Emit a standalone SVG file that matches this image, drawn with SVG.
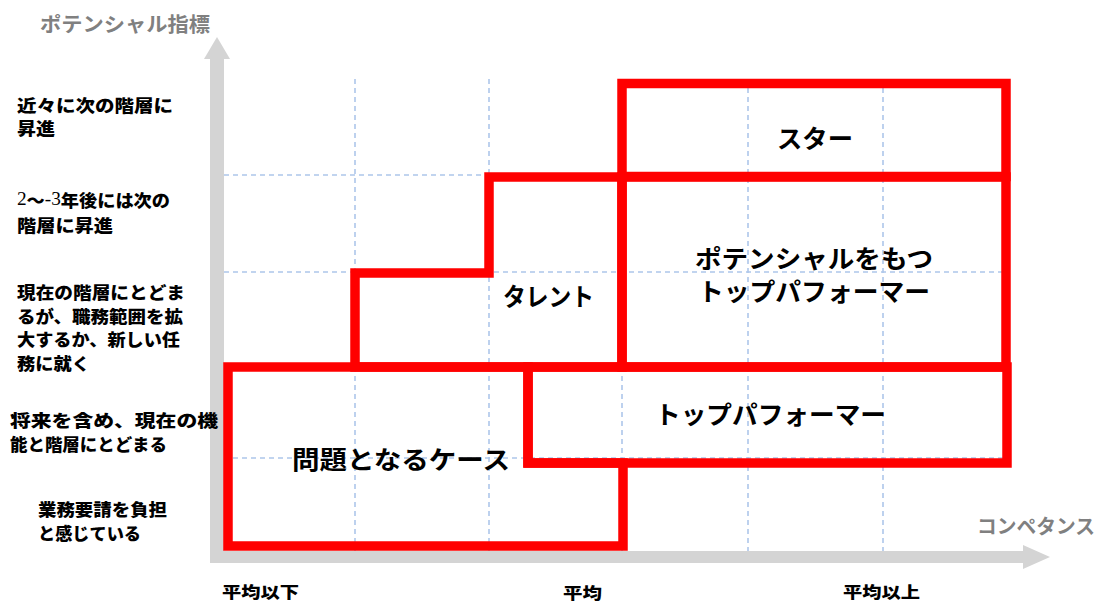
<svg xmlns="http://www.w3.org/2000/svg" width="1106" height="603" viewBox="0 0 1106 603">
<style>
.grid{stroke:#adc6ea;stroke-width:1.6;stroke-dasharray:5 4;fill:none}
.box{fill:none;stroke:#ff0000;stroke-width:9.5;stroke-linejoin:miter}
.ax{fill:#d4d4d4}
.t{font-family:"Noto Sans CJK JP","Noto Sans",sans-serif;font-weight:700;dominant-baseline:central}
.axl{fill:#808080;font-size:20px}
.lbl{fill:#000;font-size:17px;font-weight:900}
.xl{fill:#000;font-size:16px;font-weight:900}
.big{fill:#000;font-size:25px}
.num{font-family:"Liberation Serif",serif;font-weight:400;font-size:18px}
</style>
<rect width="1106" height="603" fill="#fff"/>
<g id="grid">
<line class="grid" x1="355" y1="79" x2="355" y2="552"/>
<line class="grid" x1="489" y1="79" x2="489" y2="552"/>
<line class="grid" x1="622" y1="79" x2="622" y2="552"/>
<line class="grid" x1="748" y1="79" x2="748" y2="552"/>
<line class="grid" x1="883" y1="79" x2="883" y2="552"/>
<line class="grid" x1="224" y1="175" x2="1010" y2="175"/>
<line class="grid" x1="224" y1="272" x2="1010" y2="272"/>
<line class="grid" x1="224" y1="365" x2="1010" y2="365"/>
<line class="grid" x1="224" y1="458" x2="1010" y2="458"/>
</g>
<g id="axes">
<rect class="ax" x="210" y="58" width="14" height="500"/>
<polygon class="ax" points="204,59 217,37 230,59"/>
<rect class="ax" x="210" y="551" width="814" height="12"/>
<polygon class="ax" points="1023,545 1050,557 1023,569"/>
<text class="t axl" x="40" y="23" textLength="170" lengthAdjust="spacingAndGlyphs">ポテンシャル指標</text>
<text class="t axl" x="977" y="525" textLength="118" lengthAdjust="spacingAndGlyphs">コンペタンス</text>
</g>
<g id="connectors"></g>
<g id="problem">
<polygon class="box" points="228,367 528,367 528,463 623,463 623,546 228,546"/>
<text class="t big" x="292" y="458" textLength="218" lengthAdjust="spacingAndGlyphs">問題となるケース</text>
</g>
<g id="top-performer">
<rect class="box" x="528" y="367" width="479" height="96"/>
<text class="t big" x="655" y="413" textLength="231" lengthAdjust="spacingAndGlyphs">トップパフォーマー</text>
</g>
<g id="talent">
<polygon class="box" points="355,367 355,273 489,273 489,177 622,177 622,367"/>
<text class="t big" x="503" y="295" textLength="91" lengthAdjust="spacingAndGlyphs">タレント</text>
</g>
<g id="potential-top-performer">
<rect class="box" x="622" y="177" width="384" height="190"/>
<text class="t big" x="695" y="257" textLength="238" lengthAdjust="spacingAndGlyphs">ポテンシャルをもつ</text>
<text class="t big" x="698" y="290" textLength="232" lengthAdjust="spacingAndGlyphs">トップパフォーマー</text>
</g>
<g id="star">
<rect class="box" x="622" y="83.5" width="384" height="93"/>
<text class="t big" x="777" y="137" textLength="76" lengthAdjust="spacingAndGlyphs">スター</text>
</g>
<g id="y-labels">
<text class="t lbl" x="17" y="104" textLength="156" lengthAdjust="spacingAndGlyphs">近々に次の階層に</text>
<text class="t lbl" x="17" y="127" textLength="38" lengthAdjust="spacingAndGlyphs">昇進</text>
<text class="t lbl" x="17" y="199" textLength="153" lengthAdjust="spacingAndGlyphs"><tspan class="num">2</tspan>～<tspan class="num">-3</tspan>年後には次の</text>
<text class="t lbl" x="17" y="224" textLength="96" lengthAdjust="spacingAndGlyphs">階層に昇進</text>
<text class="t lbl" x="17" y="291" textLength="168" lengthAdjust="spacingAndGlyphs">現在の階層にとどま</text>
<text class="t lbl" x="17" y="315" textLength="166" lengthAdjust="spacingAndGlyphs">るが、職務範囲を拡</text>
<text class="t lbl" x="17" y="338" textLength="163" lengthAdjust="spacingAndGlyphs">大するか、新しい任</text>
<text class="t lbl" x="17" y="362" textLength="73" lengthAdjust="spacingAndGlyphs">務に就く</text>
<text class="t lbl" x="10" y="419" textLength="208" lengthAdjust="spacingAndGlyphs">将来を含め、現在の機</text>
<text class="t lbl" x="10" y="443" textLength="157" lengthAdjust="spacingAndGlyphs">能と階層にとどまる</text>
<text class="t lbl" x="38" y="508" textLength="129" lengthAdjust="spacingAndGlyphs">業務要請を負担</text>
<text class="t lbl" x="38" y="532" textLength="103" lengthAdjust="spacingAndGlyphs">と感じている</text>
</g>
<g id="x-labels">
<text class="t xl" x="222" y="591" textLength="77" lengthAdjust="spacingAndGlyphs">平均以下</text>
<text class="t xl" x="563" y="592" textLength="39" lengthAdjust="spacingAndGlyphs">平均</text>
<text class="t xl" x="843" y="591" textLength="77" lengthAdjust="spacingAndGlyphs">平均以上</text>
</g>
</svg>
